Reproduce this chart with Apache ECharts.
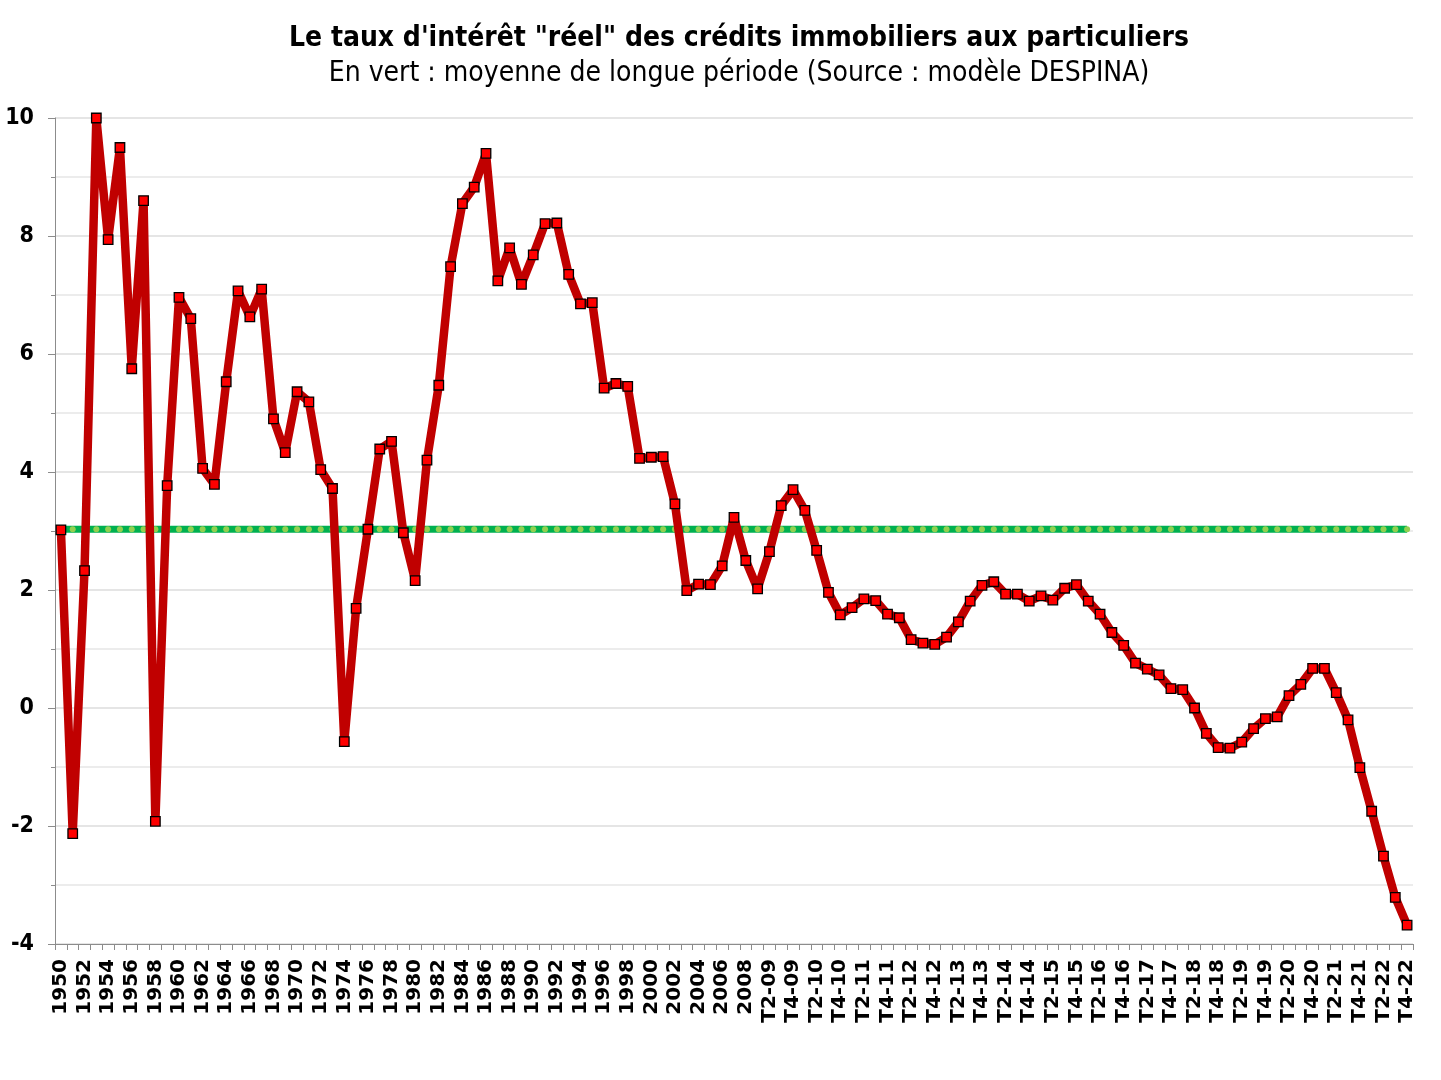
<!DOCTYPE html>
<html>
<head>
<meta charset="utf-8">
<script src="https://cdn.jsdelivr.net/npm/echarts@6/dist/echarts.min.js"></script>
<style>html,body{margin:0;padding:0;background:#fff}#c{width:1441px;height:1080px}</style>
</head>
<body>
<div id="c"></div>
<script>
const titleText = 'Le taux d\'intérêt "réel" des crédits immobiliers aux particuliers';
const subtitleText = 'En vert : moyenne de longue période (Source : modèle DESPINA)';
const annualLabels = ['1950','1951','1952','1953','1954','1955','1956','1957','1958','1959',
'1960','1961','1962','1963','1964','1965','1966','1967','1968','1969',
'1970','1971','1972','1973','1974','1975','1976','1977','1978','1979',
'1980','1981','1982','1983','1984','1985','1986','1987','1988','1989',
'1990','1991','1992','1993','1994','1995','1996','1997','1998','1999',
'2000','2001','2002','2003','2004','2005','2006','2007','2008'];
const quarterLabels = ['T1-09','T2-09','T3-09','T4-09','T1-10','T2-10','T3-10','T4-10',
'T1-11','T2-11','T3-11','T4-11','T1-12','T2-12','T3-12','T4-12',
'T1-13','T2-13','T3-13','T4-13','T1-14','T2-14','T3-14','T4-14',
'T1-15','T2-15','T3-15','T4-15','T1-16','T2-16','T3-16','T4-16',
'T1-17','T2-17','T3-17','T4-17','T1-18','T2-18','T3-18','T4-18',
'T1-19','T2-19','T3-19','T4-19','T1-20','T2-20','T3-20','T4-20',
'T1-21','T2-21','T3-21','T4-21','T1-22','T2-22','T3-22','T4-22'];
const annualValues = [3.02,-2.13,2.33,10.0,7.94,9.50,5.75,8.60,-1.92,3.77,
6.96,6.60,4.06,3.79,5.53,7.07,6.63,7.10,4.90,4.33,
5.36,5.19,4.04,3.72,-0.57,1.69,3.03,4.39,4.52,2.97,
2.16,4.20,5.47,7.48,8.55,8.83,9.40,7.24,7.80,7.18,
7.68,8.21,8.22,7.35,6.85,6.87,5.42,5.50,5.45,4.23,
4.25,4.26,3.46,1.99,2.10,2.09,2.41,3.23,2.50];
const quarterValues = [2.02,2.65,3.43,3.70, 3.35,2.67,1.96,1.58,
1.70,1.85,1.82,1.59, 1.53,1.16,1.10,1.08,
1.20,1.46,1.81,2.08, 2.14,1.93,1.93,1.81,
1.90,1.83,2.03,2.09, 1.81,1.59,1.28,1.06,
0.76,0.66,0.56,0.33, 0.31,0.00,-0.43,-0.67,
-0.68,-0.58,-0.35,-0.18, -0.15,0.21,0.40,0.67,
0.67,0.26,-0.20,-1.01, -1.75,-2.51,-3.21,-3.68];
const longRunAverage = 3.03;
const yTicks = {min: -4, max: 10, interval: 2};

const categories = annualLabels.concat(quarterLabels);
const rate = annualValues.concat(quarterValues);
const avg = categories.map(() => longRunAverage);

const chart = echarts.init(document.getElementById('c'), null, {renderer: 'canvas'});
chart.setOption({
  animation: false,
  backgroundColor: '#ffffff',
  graphic: [
    {type: 'text', x: 739, y: 39, style: {text: titleText, textAlign: 'center', textVerticalAlign: 'middle',
      font: 'bold 28px "DejaVu Sans Condensed"', fill: '#000'}},
    {type: 'text', x: 739, y: 74, style: {text: subtitleText, textAlign: 'center', textVerticalAlign: 'middle',
      font: 'normal 28px "DejaVu Sans Condensed"', fill: '#000'}}
  ],
  grid: {left: 55, right: 28, top: 118, bottom: 136, containLabel: false},
  xAxis: {
    type: 'category', data: categories, boundaryGap: true,
    axisLine: {onZero: false, lineStyle: {color: '#8c8c8c', width: 1}},
    axisTick: {show: true, interval: 0, length: 6, lineStyle: {color: '#8c8c8c'}},
    axisLabel: {interval: 1, rotate: 90, margin: 15, fontFamily: 'DejaVu Sans', fontWeight: 'bold', fontSize: 20, color: '#000'},
    splitLine: {show: false}
  },
  yAxis: {
    type: 'value', min: yTicks.min, max: yTicks.max, interval: yTicks.interval,
    axisLine: {show: true, lineStyle: {color: '#8c8c8c'}},
    axisTick: {show: true, length: 7, lineStyle: {color: '#8c8c8c'}},
    minorTick: {show: true, splitNumber: 2, length: 4, lineStyle: {color: '#8c8c8c'}},
    axisLabel: {margin: 21, fontFamily: 'DejaVu Sans Condensed', fontWeight: 'bold', fontSize: 23, color: '#000'},
    splitLine: {show: true, lineStyle: {color: '#dcdcdc', width: 1.5}},
    minorSplitLine: {show: true, lineStyle: {color: '#e6e6e6', width: 1.5}}
  },
  series: [
    {
      name: 'moyenne', type: 'line', data: avg, z: 2,
      lineStyle: {color: '#00b050', width: 7},
      symbol: 'circle', symbolSize: 6, showSymbol: true, showAllSymbol: true,
      itemStyle: {color: '#92d050', borderWidth: 0}
    },
    {
      name: 'taux réel', type: 'line', data: rate, z: 3,
      lineStyle: {color: '#c00000', width: 8.5, join: 'bevel'},
      symbol: 'rect', symbolSize: 9.5, showSymbol: true, showAllSymbol: true,
      itemStyle: {color: '#ff0000', borderColor: '#000000', borderWidth: 1.3}
    }
  ]
});
</script>
</body>
</html>
